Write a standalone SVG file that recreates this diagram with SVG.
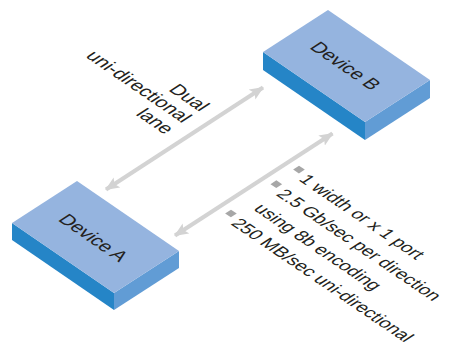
<svg xmlns="http://www.w3.org/2000/svg" width="449" height="346" viewBox="0 0 449 346">
<style>
.top{fill:#95b4df}
.left{fill:#2585c7}
.right{fill:#619cd5}
.lbl{font-family:"Liberation Sans",Arial,sans-serif;font-size:19px;fill:#231f20}
.t{font-family:"Liberation Sans",Arial,sans-serif;fill:#231f20}
.conn{stroke:#d3d3d3;stroke-width:4;fill:none}
.bul{fill:#a7a7a7}
</style>
<defs>
<marker id="ah" markerWidth="14" markerHeight="12" refX="13" refY="6" orient="auto-start-reverse" markerUnits="userSpaceOnUse">
<path d="M0,0 L14,6 L0,12 L3,6 Z" fill="#d3d3d3"/>
</marker>
</defs>
<rect width="449" height="346" fill="#ffffff"/>
<g id="device-b">
<polygon class="left" points="263,52 365,122 365,140 263,70"/>
<polygon class="right" points="365,122 430,80 430,98 365,140"/>
<polygon class="top" points="328,10 430,80 365,122 263,52"/>
<text class="lbl" text-anchor="middle" transform="matrix(0.8245,0.566,-0.84,0.543,346,65.5)" y="7">Device B</text>
</g>
<g id="device-a">
<polygon class="left" points="12,223 114,293 114,310 12,240"/>
<polygon class="right" points="114,293 179,251 179,268 114,310"/>
<polygon class="top" points="77,181 179,251 114,293 12,223"/>
<text class="lbl" text-anchor="middle" transform="matrix(0.8245,0.566,-0.84,0.543,94,237.5)" y="7">Device A</text>
</g>
<g id="connectors">
<line class="conn" x1="106" y1="189.5" x2="263" y2="87.5" marker-start="url(#ah)" marker-end="url(#ah)"/>
<line class="conn" x1="175" y1="235.5" x2="332.5" y2="133.5" marker-start="url(#ah)" marker-end="url(#ah)"/>
</g>
<g id="lane-label" class="t" font-size="19" text-anchor="end" transform="matrix(0.8245,0.566,-0.84,0.543,200,112)">
<text x="0" y="0">Dual</text>
<text x="0" y="21">uni-directional</text>
<text x="0" y="42">lane</text>
</g>
<g id="specs" class="t" font-size="18" transform="matrix(0.8245,0.56,-0.84,0.543,298,180)">
<rect class="bul" x="-12.5" y="-13.5" width="7" height="7"/>
<text x="0" y="0">1 width or x 1 port</text>
<rect class="bul" x="-12.5" y="13.5" width="7" height="7"/>
<text x="0" y="27">2.5 Gb/sec per direction</text>
<text x="0" y="54">using 8b encoding</text>
<rect class="bul" x="-12.5" y="67.5" width="7" height="7"/>
<text x="0" y="81">250 MB/sec uni-directional</text>
</g>
</svg>
